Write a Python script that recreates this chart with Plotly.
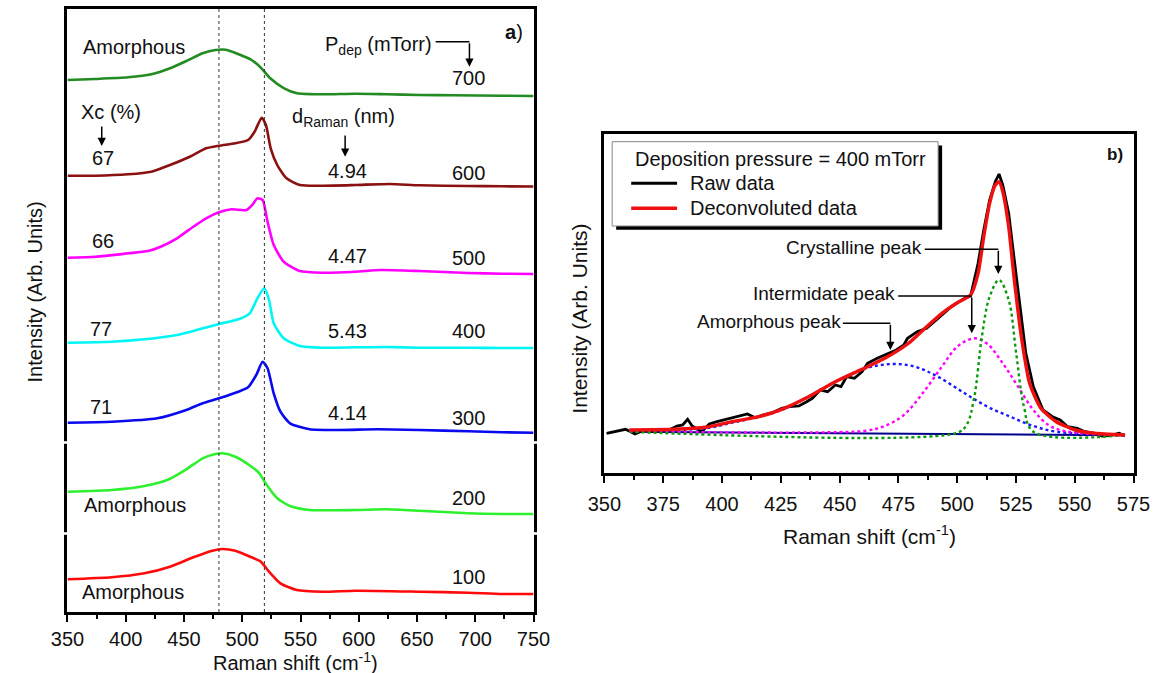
import plotly.graph_objects as go

# ---------------- Panel a data (Raman shift, stacked intensity, arb. units) ----------------
x_700 = [350, 374, 402, 422, 438, 452, 466, 477, 486, 497, 508, 516, 524, 536, 547, 569, 597, 624, 652, 681, 723, 750]
y_700 = [532, 533, 534.7, 537.7, 543.7, 551, 558.7, 562, 562.3, 557.7, 552, 544.3, 533.7, 523.7, 518.7, 517.7, 518.3, 517.7, 517, 516.7, 516.3, 516]

x_600 = [350, 374, 402, 422, 438, 455, 469, 480, 494, 505, 510.6, 516.7, 520.3, 524.4, 530, 538, 549.4, 569, 597, 627, 652, 694, 723, 750]
y_600 = [436.3, 436.3, 437.7, 440.3, 447, 455.3, 463.7, 466.3, 468.7, 472, 480.3, 494.3, 487, 463.7, 447, 433.7, 427, 426.3, 427, 428, 426.7, 426, 425.7, 425.5]

x_500 = [350, 374, 402, 419, 430, 444, 458, 469, 480, 491, 503.6, 509, 513, 517.5, 521.7, 527, 535.6, 549.4, 569, 597, 619, 652, 694, 723, 750]
y_500 = [354.3, 355.3, 358.7, 361, 365.3, 373.7, 385.3, 393.7, 399.7, 402.7, 402, 407.7, 413.7, 412, 390.3, 367, 350.3, 341, 339.3, 340.3, 342, 341, 339, 338.3, 338]

x_400 = [350, 388, 416, 444, 463, 480, 496.7, 506.4, 513, 519, 523, 527, 535.6, 549.4, 569, 597, 624, 652, 694, 723, 750]
y_400 = [269.3, 270.3, 272.7, 277, 282.7, 288, 292.7, 298.7, 313.7, 323.7, 312, 288.7, 273.7, 266, 264.3, 264.7, 265, 264.3, 264.3, 264, 264]

x_300 = [350, 388, 427, 452, 466, 480, 496.7, 505, 512, 517.5, 521.7, 527, 532.8, 541, 557.8, 583, 616, 652, 694, 723, 750]
y_300 = [189.3, 190.3, 193.7, 202, 208.7, 213.7, 220.3, 224.7, 237, 250.3, 243.7, 218.7, 200.3, 188.7, 182.7, 182, 182.7, 182, 180.7, 179.7, 179.3]

x_200 = [350, 388, 416, 435.6, 452, 466, 477, 482.8, 494, 508, 514.7, 520, 530, 541, 558, 597, 624, 652, 694, 723, 750]
y_200 = [120.3, 122, 126, 132, 142.7, 153.7, 158, 158.7, 155.3, 145.3, 138.7, 128.7, 113.7, 106, 102, 102, 102.7, 101.3, 98.7, 98, 98]

x_100 = [350, 388, 416, 438, 458, 474.4, 482.8, 494, 508, 516, 523, 532.8, 546.7, 569, 597, 652, 694, 723, 750]
y_100 = [32.7, 34.7, 38.7, 45.3, 54.7, 61.3, 63, 61.3, 54.7, 50.3, 40.3, 28.7, 22, 20.3, 21.3, 20.3, 19.3, 18, 18]

pressures = ["700", "600", "500", "400", "300", "200", "100"]
xc_labels = ["67", "66", "77", "71"]
d_labels = ["4.94", "4.47", "5.43", "4.14"]
vlines_a = [480, 519]

# ---------------- Panel b data (400 mTorr deconvolution) ----------------
xb_raw = [350.9, 354.9, 359, 363, 366.3, 370.3, 376.8, 380.8, 383.3, 385.4, 387.3, 391.4, 394.6, 397.9, 401.9,
          405.2, 407.6, 410.8, 414.1, 417.3, 421.4, 425.4, 428.7, 432.7, 436, 438.4, 441.7, 444.9, 448.2, 450.6,
          453, 456.3, 459.5, 461.9, 466, 470.8, 474.1, 477.3, 478.9, 483, 487, 491.1, 494.3, 497.5, 500.8, 503.2,
          505.7, 507.3, 508.9, 511.3, 513.8, 516.2, 517.8, 519.4, 521.9, 524.3, 526.7, 529.2, 532.4, 536.5, 540.5,
          543.8, 547, 551.1, 554.3, 558.4, 561.6, 565.7, 568.9, 571.3]
yb_raw = [39.7, 41.3, 43.7, 39, 42.3, 41.3, 42.3, 47, 48, 53.7, 47, 41.3, 49, 51.3, 53.7,
          55.3, 57, 59, 55.3, 58, 60.3, 64.7, 66.3, 67, 71.3, 74.7, 83, 81.3, 88, 86.3,
          96.3, 94.7, 101.3, 109.7, 114.7, 119.7, 123, 128, 134.7, 141.3, 144.7, 153, 159.7, 166.3, 171.3, 174.7,
          177, 193, 209.7, 243, 273, 291.3, 299, 288, 259.7, 213, 166.3, 119.7, 86.3, 63, 56.3,
          53, 46.3, 44.7, 41.3, 39.7, 37, 38, 39.7, 37]

xb_fit = [360.6, 380, 393, 404.3, 415.7, 425.4, 436.8, 448.2, 459.5, 469.2, 478.9, 487, 493.5, 500, 505.7, 508.9,
          511.3, 513.8, 516.2, 517.8, 519.4, 521.9, 524.3, 527.5, 530.8, 535.6, 542.1, 550.2, 558.4, 571.3]
yb_fit = [43, 43.7, 45.7, 51.3, 56.3, 63.7, 76.3, 91.3, 103.7, 114.7, 129, 146.3, 159.7, 170.3, 178, 199.7,
          236.3, 269.7, 288, 291.3, 281.3, 246.3, 193, 133, 89.7, 64.7, 51.3, 43, 39.7, 38]

xb_amor = [360.6, 393, 404.3, 415.7, 425.4, 436.8, 448.2, 461.1, 472.4, 482.1, 491.8, 503.2, 512.9, 522.6, 532.4, 542.1, 558.4, 571.3]
yb_amor = [42.3, 44.7, 50.3, 56.3, 63, 76.3, 91.3, 104.7, 109, 106.3, 96.3, 79.7, 66.3, 56.3, 47, 41.3, 39, 38]

xb_inter = [360.6, 444.9, 461.1, 469.2, 477.3, 485.3, 493.5, 500, 507.3, 512.9, 519.4, 525.9, 532.4, 538.8, 547, 571.3]
yb_inter = [41.3, 40.7, 42.3, 47, 58, 79.7, 106.3, 126.3, 134.7, 129, 109.7, 86.3, 63, 48, 41.3, 38]

xb_cryst = [360.6, 500, 504, 507.3, 510.5, 513.8, 517.8, 521.9, 525.1, 528.4, 532.4, 571.3]
yb_cryst = [41.3, 40.3, 48, 76.3, 136.3, 176.3, 193, 173, 119.7, 66.3, 41.3, 38]

xb_base = [360.6, 571.3]
yb_base = [41.3, 37.7]

# ---------------- figure ----------------
W, H = 1169, 673
FONT = "Liberation Sans, Arial, sans-serif"

def px_x(p):
    return p / W

def px_y(p):
    return 1 - p / H

fig = go.Figure()

curves_a = [(x_700, y_700, "#228B22"), (x_600, y_600, "#8B1010"), (x_500, y_500, "#FF00FF"),
            (x_400, y_400, "#00F5F5"), (x_300, y_300, "#0A0AF0"), (x_200, y_200, "#2EF02E"),
            (x_100, y_100, "#FF0A0A")]
for (xs, ys, c), name in zip(curves_a, pressures):
    fig.add_trace(go.Scatter(x=xs, y=ys, mode="lines", name=name, xaxis="x", yaxis="y",
                             line=dict(color=c, width=2.6, shape="spline", smoothing=0.6),
                             showlegend=False, hoverinfo="skip"))

fig.add_trace(go.Scatter(x=xb_base, y=yb_base, mode="lines", xaxis="x2", yaxis="y2",
                         line=dict(color="#00008B", width=2), showlegend=False))
fig.add_trace(go.Scatter(x=xb_raw, y=yb_raw, mode="lines", name="Raw data", xaxis="x2", yaxis="y2",
                         line=dict(color="black", width=2.8), showlegend=False))
fig.add_trace(go.Scatter(x=xb_amor, y=yb_amor, mode="lines", xaxis="x2", yaxis="y2",
                         line=dict(color="#1A1AFF", width=2.4, dash="dot", shape="spline"), showlegend=False))
fig.add_trace(go.Scatter(x=xb_inter, y=yb_inter, mode="lines", xaxis="x2", yaxis="y2",
                         line=dict(color="#FF00FF", width=2.4, dash="dot", shape="spline"), showlegend=False))
fig.add_trace(go.Scatter(x=xb_cryst, y=yb_cryst, mode="lines", xaxis="x2", yaxis="y2",
                         line=dict(color="#0A9A0A", width=2.4, dash="dot", shape="spline"), showlegend=False))
fig.add_trace(go.Scatter(x=xb_fit, y=yb_fit, mode="lines", name="Deconvoluted data", xaxis="x2", yaxis="y2",
                         line=dict(color="#F01010", width=3.4, shape="spline", smoothing=0.6), showlegend=False))

axis_common = dict(showline=True, linecolor="black", linewidth=3, mirror=True, showgrid=False,
                   zeroline=False, ticks="outside", tickcolor="black", tickwidth=2, ticklen=7,
                   tickfont=dict(family=FONT, size=20, color="#111"))

fig.update_layout(
    width=W, height=H, margin=dict(l=0, r=0, t=0, b=0),
    paper_bgcolor="white", plot_bgcolor="white",
    xaxis=dict(domain=[px_x(52), px_x(532)], range=[350, 750], anchor="y", dtick=50, tick0=350,
               minor=dict(dtick=25, ticks="outside", ticklen=4, tickwidth=2, tickcolor="black"),
               **axis_common),
    yaxis=dict(domain=[px_y(612), px_y(9)], range=[0, 603], anchor="x", showline=True, linecolor="black",
               linewidth=3, mirror=True, showgrid=False, zeroline=False, showticklabels=False, ticks=""),
    xaxis2=dict(domain=[px_x(605), px_x(1150)], range=[350, 575], anchor="y2", dtick=25, tick0=350,
                minor=dict(dtick=12.5, ticks="outside", ticklen=4, tickwidth=2, tickcolor="black"),
                ticklabelstandoff=4, **axis_common),
    yaxis2=dict(domain=[px_y(473), px_y(134)], range=[0, 339], anchor="x2", showline=True, linecolor="black",
                linewidth=3, mirror=True, showgrid=False, zeroline=False, showticklabels=False, ticks=""),
)

shapes = []
# dotted reference lines in panel a
for v in vlines_a:
    shapes.append(dict(type="line", xref="x", yref="y domain", x0=v, x1=v, y0=0, y1=1,
                       line=dict(color="#333", width=1, dash="dot")))
# small breaks in the frame of panel a
for yy in (169.5, 78.5):
    for x0, x1 in ((-0.012, 0.012), (0.988, 1.012)):
        shapes.append(dict(type="rect", xref="x domain", yref="y", x0=x0, x1=x1, y0=yy - 1.3, y1=yy + 1.3,
                           fillcolor="white", line=dict(width=0), layer="above"))
# connector lines for arrows (panel a)
shapes.append(dict(type="line", xref="x", yref="y", x0=666, x1=695, y0=570.3, y1=570.3,
                   line=dict(color="black", width=1.5)))
# legend box with shadow (panel b)
shapes.append(dict(type="rect", xref="x2", yref="y2", x0=355.0, x1=493.6, y0=243.3, y1=327.5,
                   fillcolor="black", line=dict(width=0)))
shapes.append(dict(type="rect", xref="x2", yref="y2", x0=353.3, x1=491.9, y0=247, y1=331.3,
                   fillcolor="white", line=dict(color="#888", width=1)))
shapes.append(dict(type="line", xref="x2", yref="y2", x0=361.4, x1=380.9, y0=289.7, y1=289.7,
                   line=dict(color="black", width=3)))
shapes.append(dict(type="line", xref="x2", yref="y2", x0=361.4, x1=380.9, y0=264.7, y1=264.7,
                   line=dict(color="#F01010", width=3.5)))
# connector lines for arrows (panel b)
for x0, x1, yy in ((486.2, 517.5, 223.7), (474.9, 506.2, 177), (451.4, 471.6, 149.7)):
    shapes.append(dict(type="line", xref="x2", yref="y2", x0=x0, x1=x1, y0=yy, y1=yy,
                       line=dict(color="black", width=1.5)))
fig.update_layout(shapes=shapes)

ann = []

def txt(x, y, s, size=20, xref="x", yref="y", xanchor="center", yanchor="middle", **kw):
    ann.append(dict(x=x, y=y, xref=xref, yref=yref, text=s, showarrow=False, xanchor=xanchor,
                    yanchor=yanchor, font=dict(family=FONT, size=size, color="#111"), **kw))

def arrow(xt, yt, xa, ya, xref="x", yref="y"):
    ann.append(dict(x=xt, y=yt, ax=xa, ay=ya, xref=xref, yref=yref, axref=xref, ayref=yref, text="",
                    showarrow=True, arrowhead=2, arrowsize=1.1, arrowwidth=1.5, arrowcolor="black"))

# panel a texts
txt(407.5, 565.3, "Amorphous")
txt(407.8, 107, "Amorphous")
txt(406.4, 20.3, "Amorphous")
txt(616.7, 566.5, "P<sub>dep</sub> (mTorr)")
arrow(695, 545.3, 695, 570.3)
txt(387.5, 500.3, "Xc (%)")
arrow(379.4, 466, 379.4, 487)
txt(586.7, 494.5, "d<sub>Raman</sub> (nm)")
arrow(588.3, 455.3, 588.3, 478)
p_y = [533.7, 438.7, 354.3, 281, 193.7, 113.7, 34.7]
for s, yy in zip(pressures, p_y):
    txt(694, yy, s)
xc_pos = [(380.8, 453.7), (380.8, 371), (378.6, 282.7), (378.6, 204.7)]
for s, (xx, yy) in zip(xc_labels, xc_pos):
    txt(xx, yy, s)
d_y = [441, 356, 281, 199.3]
for s, yy in zip(d_labels, d_y):
    txt(590, yy, s)
txt(733.3, 580.3, "<b>a</b>)")

# panel b texts
txt(362.2, 313.7, "Deposition pressure = 400 mTorr", xref="x2", yref="y2", xanchor="left")
txt(385.7, 289.7, "Raw data", xref="x2", yref="y2", xanchor="left")
txt(385.7, 264.7, "Deconvoluted data", xref="x2", yref="y2", xanchor="left")
txt(456.2, 225.3, "Crystalline peak", size=19, xref="x2", yref="y2")
txt(443.3, 179.7, "Intermidate peak", size=19, xref="x2", yref="y2")
txt(420.0, 151.3, "Amorphous peak", size=19, xref="x2", yref="y2")
arrow(517.5, 199, 517.5, 223.7, xref="x2", yref="y2")
arrow(506.2, 139.7, 506.2, 177, xref="x2", yref="y2")
arrow(471.6, 123, 471.6, 149.7, xref="x2", yref="y2")
txt(567.3, 318, "<b>b)</b>", size=17, xref="x2", yref="y2")

# axis titles
txt(px_x(287), px_y(661), "Raman shift (cm<sup>-1</sup>)", size=20, xref="paper", yref="paper")
txt(px_x(878), px_y(535), "Raman shift (cm<sup>-1</sup>)", size=21, xref="paper", yref="paper")
txt(px_x(19), px_y(292), "Intensity (Arb. Units)", size=20, xref="paper", yref="paper", textangle=-90)
txt(px_x(578.5), px_y(319), "Intensity (Arb. Units)", size=21, xref="paper", yref="paper", textangle=-90)

fig.update_layout(annotations=ann)
fig.write_html("out.html")
